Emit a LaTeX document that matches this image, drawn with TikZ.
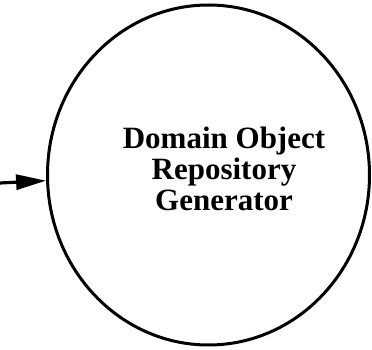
\documentclass[tikz,border=0pt]{standalone}
\usepackage{fontspec}
\setmainfont{Liberation Serif}
\usetikzlibrary{shapes.geometric,arrows.meta}
\begin{document}
\begin{tikzpicture}[x=1pt,y=-1pt,
  process/.style={draw=black, line width=3pt, ellipse, inner sep=0pt,
    minimum width=322pt, minimum height=340pt},
  label/.style={font=\fontsize{31pt}{31pt}\selectfont\bfseries, align=center, inner sep=0pt},
  flow/.style={line width=3.2pt, -{Triangle[length=30pt,width=15pt]}}]
  \useasboundingbox (0,0) rectangle (372,350);
  % the generator process
  \node[process] (gen) at (208.5,175) {};
  \node[label] (title) at (224,168.5) {Domain Object\\Repository\\Generator};
  % incoming data flow
  \coordinate (src) at (0,183);
  \draw[flow] (src) -- (gen.182.8);
\end{tikzpicture}
\end{document}
